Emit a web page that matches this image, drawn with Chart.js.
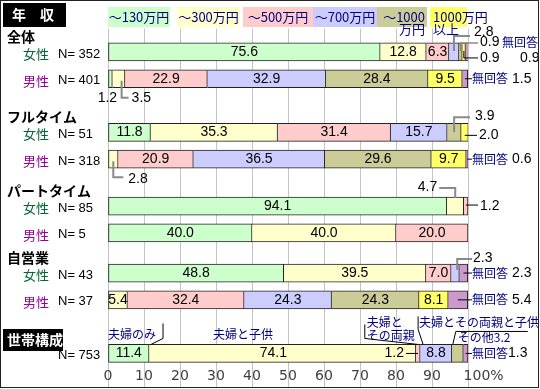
<!DOCTYPE html>
<html><head><meta charset="utf-8">
<script src="https://cdn.jsdelivr.net/npm/chart.js@4.4.1/dist/chart.umd.min.js"></script>
<style>html,body{margin:0;padding:0;background:#fff;}canvas{display:block;}</style>
</head><body>
<canvas id="c" width="540" height="389"></canvas>
<script>
// ---------- data ----------
const groupNames = ['全体', 'フルタイム', 'パートタイム', '自営業'];
const rowSex = ['女性', '男性', '女性', '男性', '女性', '男性', '女性', '男性', ''];
const rowN = [352, 401, 51, 318, 85, 5, 43, 37, 753];
const incomeLabels = ['～130万円', '～300万円', '～500万円', '～700万円', '～1000\n万円', '1000万円\n以上', '無回答'];
const householdLabels = ['夫婦のみ', '夫婦と子供', '夫婦と\nその両親', '夫婦とその両親と子供', 'その他', '無回答'];
// rows: 全体女, 全体男, FT女, FT男, PT女, PT男, 自営女, 自営男, 世帯構成
const s130  = [75.6, 1.2, 11.8, 0,    94.1, 40.0, 48.8, 0,    11.4];
const s300  = [12.8, 3.5, 35.3, 2.8,  4.7,  40.0, 39.5, 5.4,  74.1];
const s500  = [6.3,  22.9, 31.4, 20.9, 1.2, 20.0, 7.0,  32.4, 1.2];
const s700  = [2.8,  32.9, 15.7, 36.5, 0,   0,    2.3,  24.3, 8.8];
const s1000 = [0.9,  28.4, 3.9,  29.6, 0,   0,    0,    24.3, 3.2];
const sOver = [0.9,  9.5,  2.0,  9.7,  0,   0,    0,    8.1,  0];
const sNA   = [0.9,  1.5,  0,    0.6,  0,   0,    2.3,  5.4,  1.3];
const xTicks = [0, 10, 20, 30, 40, 50, 60, 70, 80, 90, 100];

// ---------- layout ----------
const SLOTS = 50;
const rowSlot = [3, 7, 15, 19, 26, 30, 36, 40, 48];
const series = [s130, s300, s500, s700, s1000, sOver, sNA];
const colors = ['#CCFFCC', '#FFFFCC', '#FFCCCC', '#CCCCFF', '#CCCC99', '#FFFF66', '#CC99CC'];
const legendBoxes = [[108, 170], [177, 240], [243, 313], [313, 377], [377, 427], [430, 467]];
const CJK = '"Noto Sans CJK JP", sans-serif';
const NUM = '"Liberation Sans", sans-serif';
const NAVY = '#000080';
const GRAY = '#8a8a8a';

const slotLabels = Array.from({length: SLOTS}, () => '');
function spread(arr) {
  const d = new Array(SLOTS).fill(null);
  rowSlot.forEach((s, i) => { d[s] = arr[i]; });
  return d;
}
function firstNonZero(row, k) {
  for (let j = 0; j < k; j++) if (series[j][row] > 0) return false;
  return true;
}

// ---------- drawing helpers ----------
function txt(ctx, s, x, y, o = {}) {
  ctx.save();
  ctx.font = o.font || ('14px ' + NUM);
  ctx.fillStyle = o.color || '#000';
  ctx.textAlign = o.align || 'left';
  ctx.textBaseline = 'middle';
  ctx.fillText(s, x, y);
  ctx.restore();
}
function poly(ctx, pts, color, w) {
  ctx.save();
  ctx.strokeStyle = color; ctx.lineWidth = w || 1;
  ctx.beginPath();
  pts.forEach((p, i) => i ? ctx.lineTo(p[0], p[1]) : ctx.moveTo(p[0], p[1]));
  ctx.stroke();
  ctx.restore();
}
function segs(chart, row) {
  const slot = rowSlot[row];
  return series.map((arr, k) => {
    const el = chart.getDatasetMeta(k).data[slot];
    const p = el.getProps(['x', 'y', 'base', 'height'], true);
    const start = Math.min(p.x, p.base), end = Math.max(p.x, p.base);
    return {start, end, cx: (start + end) / 2, cy: p.y, top: p.y - p.height / 2, bottom: p.y + p.height / 2, v: arr[row]};
  });
}
const numF = '14px ' + NUM;
const cjk12 = '12px ' + CJK;
function noAnswer(ctx, g, R, val, gap) {
  const p = g[6];
  poly(ctx, [[p.cx, p.cy], [R + 4, p.cy]], '#000', 1);
  txt(ctx, '無回答', R + 4, p.cy, {font: cjk12, color: NAVY});
  txt(ctx, val, R + (gap || 44), p.cy, {font: numF});
}

const labelPlugin = {
  id: 'labels',
  beforeDraw(chart) {
    const ctx = chart.ctx;
    ctx.save(); ctx.fillStyle = '#fff'; ctx.fillRect(0, 0, chart.width, chart.height); ctx.restore();
  },
  afterDatasetsDraw(chart) {
    const ctx = chart.ctx;
    const xs = chart.scales.x;
    const R = xs.getPixelForValue(100), L = xs.getPixelForValue(0);
    const rows = rowSlot.map((_, r) => segs(chart, r));

    // in-bar values
    rows.forEach((g, r) => {
      g.forEach((s, k) => {
        if (k === 6 || s.v < 5) return;
        const dx = (r === 8 && k === 1) ? -9 : 0;
        txt(ctx, s.v.toFixed(1), s.cx + dx, s.cy, {font: numF, align: 'center'});
      });
    });

    // row 0: 全体 女性
    let g = rows[0], cy = g[0].cy;
    poly(ctx, [[g[3].cx, cy - 1], [g[3].cx, cy - 16], [R + 2, cy - 16]], GRAY, 2);
    txt(ctx, '2.8', R + 6, cy - 19.5, {font: numF});
    poly(ctx, [[g[4].cx, cy - 1], [g[4].cx, cy - 9], [R + 10, cy - 9]], GRAY, 1.5);
    txt(ctx, '0.9', R + 12, cy - 9.5, {font: numF});
    txt(ctx, '無回答', R + 34, cy - 9.5, {font: cjk12, color: NAVY});
    poly(ctx, [[g[5].cx, cy - 1], [g[5].cx, cy + 6], [R + 10, cy + 6]], '#000', 1);
    txt(ctx, '0.9', R + 12, cy + 6, {font: numF});
    txt(ctx, '0.9', R + 52, cy + 6, {font: numF});

    // row 1: 全体 男性
    g = rows[1]; cy = g[0].cy;
    txt(ctx, '1.2', g[0].cx - 3, g[0].bottom + 10, {font: numF, align: 'center'});
    poly(ctx, [[g[1].cx + 3, cy + 2], [g[1].cx + 3, g[1].bottom + 10], [g[1].cx + 10, g[1].bottom + 10]], GRAY, 2);
    txt(ctx, '3.5', g[1].cx + 13, g[1].bottom + 10, {font: numF});
    noAnswer(ctx, g, R, '1.5');

    // row 2: フルタイム 女性
    g = rows[2]; cy = g[0].cy;
    poly(ctx, [[g[4].cx, cy], [g[4].cx, cy - 15], [R + 2, cy - 15]], GRAY, 2);
    txt(ctx, '3.9', R + 7, cy - 16, {font: numF});
    poly(ctx, [[g[5].cx, cy + 3], [R + 9, cy + 3]], '#000', 1);
    txt(ctx, '2.0', R + 11, cy + 3, {font: numF});

    // row 3: フルタイム 男性
    g = rows[3]; cy = g[0].cy;
    poly(ctx, [[g[1].cx, cy + 2], [g[1].cx, g[1].bottom + 9], [g[1].cx + 10, g[1].bottom + 9]], GRAY, 2);
    txt(ctx, '2.8', g[1].cx + 15, g[1].bottom + 11, {font: numF});
    noAnswer(ctx, g, R, '0.6');

    // row 4: パートタイム 女性
    g = rows[4]; cy = g[0].cy;
    poly(ctx, [[g[1].cx, g[1].top + 1], [g[1].cx, cy - 18], [g[1].cx - 16, cy - 18]], GRAY, 2);
    txt(ctx, '4.7', g[1].cx - 18, cy - 19, {font: numF, align: 'right'});
    poly(ctx, [[g[2].cx, cy - 1], [R + 10, cy - 1]], '#000', 1);
    txt(ctx, '1.2', R + 12, cy, {font: numF});

    // row 6: 自営業 女性
    g = rows[6]; cy = g[0].cy;
    poly(ctx, [[g[3].cx + 2, cy - 3], [g[3].cx + 2, cy - 14], [R + 4, cy - 14]], GRAY, 2);
    txt(ctx, '2.3', R + 5, cy - 15, {font: numF});
    noAnswer(ctx, g, R, '2.3');

    // row 7: 自営業 男性
    g = rows[7];
    noAnswer(ctx, g, R, '5.4');

    // row 8: 世帯構成
    g = rows[8]; cy = g[0].cy;
    txt(ctx, '1.2', g[2].cx - 14, cy, {font: numF, align: 'right'});
    poly(ctx, [[g[2].cx - 12, cy], [g[2].cx, cy]], '#000', 1);
    noAnswer(ctx, g, R, '1.3', 40);
    const hf = {font: cjk12, color: NAVY};
    txt(ctx, householdLabels[0], L, cy - 19, hf);
    poly(ctx, [[g[0].end + 14, cy - 30], [g[0].end + 14, cy - 15], [g[0].end + 2, cy - 9]], '#000', 1);
    txt(ctx, householdLabels[1], g[1].start + 64, cy - 19, hf);
    const hl = householdLabels[2].split('\n');
    txt(ctx, hl[0], g[2].start - 49, cy - 31, hf);
    txt(ctx, hl[1], g[2].start - 49, cy - 18, hf);
    poly(ctx, [[g[2].start - 51, cy - 29], [g[2].start - 51, cy - 15], [g[2].cx, cy - 9]], '#000', 1);
    txt(ctx, householdLabels[3], g[3].start - 1, cy - 31, hf);
    poly(ctx, [[g[3].start - 2, cy - 37], [g[3].start - 2, cy - 24], [g[3].start + 3, cy - 9]], '#000', 1);
    txt(ctx, householdLabels[4] + '3.2', g[4].start + 6, cy - 16, hf);
    poly(ctx, [[g[4].start + 1, cy - 9], [g[4].start + 4, cy - 22], [g[4].start + 76, cy - 22]], '#000', 1);

    // left labels
    rows.forEach((g, r) => {
      const y = g[0].cy + 2;
      if (r % 2 === 0 && r < 8) txt(ctx, groupNames[r / 2], 7, g[0].cy - 15.5, {font: 'bold 14px ' + CJK});
      if (rowSex[r]) txt(ctx, rowSex[r], 23, y, {font: '13px ' + CJK, color: rowSex[r] === '女性' ? '#006633' : '#990099'});
      txt(ctx, 'N= ' + rowN[r], 58, y, {font: '13px ' + NUM});
    });

    // legend
    legendBoxes.forEach((b, k) => {
      ctx.save(); ctx.fillStyle = colors[k]; ctx.fillRect(b[0], 7, b[1] - b[0], 20); ctx.restore();
      const lines = incomeLabels[k].split('\n');
      const lf = {font: '13px ' + CJK, color: NAVY};
      if (lines.length === 1) txt(ctx, lines[0], (b[0] + b[1]) / 2, 17, Object.assign({align: 'center'}, lf));
      else if (k === 4) { txt(ctx, lines[0], b[1] - 2, 17, Object.assign({align: 'right'}, lf)); txt(ctx, lines[1], b[1] - 2, 29, Object.assign({align: 'right'}, lf)); }
      else { txt(ctx, lines[0], b[0] + 3, 17, lf); txt(ctx, lines[1], b[0] + 3, 29, lf); }
    });

    // title boxes
    ctx.save(); ctx.fillStyle = '#000';
    ctx.fillRect(3, 3, 63, 24);
    ctx.fillRect(3, 329, 60, 22);
    ctx.restore();
    txt(ctx, '年', 12, 15, {font: 'bold 14px ' + CJK, color: '#fff'});
    txt(ctx, '収', 40, 15, {font: 'bold 14px ' + CJK, color: '#fff'});
    txt(ctx, '世帯構成', 7, 340, {font: 'bold 14px ' + CJK, color: '#fff'});

    // frame
    ctx.save(); ctx.strokeStyle = '#222'; ctx.lineWidth = 1;
    ctx.strokeRect(0.5, 0.5, 538, 387); ctx.restore();
  }
};

new Chart(document.getElementById('c'), {
  type: 'bar',
  data: {
    labels: slotLabels,
    datasets: series.map((arr, k) => ({
      label: incomeLabels[k],
      data: spread(arr),
      backgroundColor: colors[k],
      borderColor: '#222',
      borderWidth: 1,
      borderSkipped: (c) => {
        const row = rowSlot.indexOf(c.dataIndex);
        return row >= 0 && firstNonZero(row, c.datasetIndex) ? false : 'start';
      },
      barThickness: 18,
      stack: 's'
    }))
  },
  options: {
    indexAxis: 'y',
    responsive: false,
    animation: false,
    devicePixelRatio: 1,
    layout: {padding: {left: 108, right: 72, top: 28.5, bottom: 1.5}},
    plugins: {legend: {display: false}, tooltip: {enabled: false}},
    scales: {
      y: {type: 'category', stacked: true, display: false, offset: true},
      x: {
        type: 'linear', stacked: true, min: 0, max: 100,
        afterBuildTicks: (s) => { s.ticks = xTicks.map(v => ({value: v})); },
        afterFit: (s) => { s.height = 24; },
        border: {display: false},
        grid: {color: '#c4c4c4', tickColor: '#c4c4c4', tickLength: 24, drawTicks: true},
        ticks: {
          autoSkip: false, maxRotation: 0, padding: -19.2, color: '#404040',
          font: {family: 'DejaVu Sans', size: 14},
          callback: (v) => v === 100 ? '       100%' : String(v)
        }
      }
    }
  },
  plugins: [labelPlugin]
});
</script>
</body></html>
